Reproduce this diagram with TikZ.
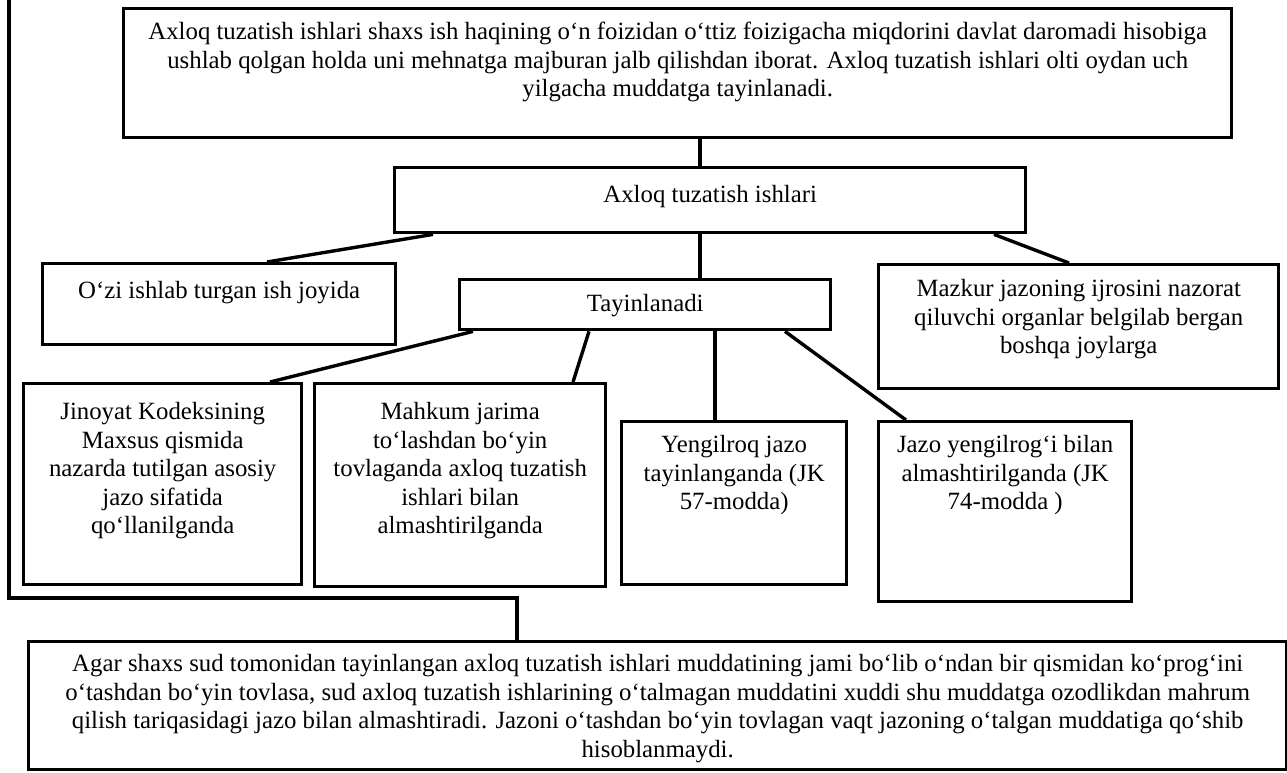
\documentclass[tikz,border=0pt]{standalone}
\usepackage{fontspec}
\setmainfont{Liberation Serif}
\newcommand{\bt}[4]{\parbox[c][#2pt][t]{#1pt}{\centering\rule{0pt}{#3pt}#4}}
\begin{document}
\begin{tikzpicture}[x=1pt,y=-1pt,
  box/.style={draw, line width=3.4pt, inner sep=0pt, anchor=north west,
    font=\fontsize{24.8}{28.5}\selectfont},
  conn/.style={line width=3.4pt, line join=miter}]
\fill[white] (0,0) rectangle (1287,773);
\useasboundingbox (0,0) rectangle (1287,773);

\node[box] (top) at (122,7) {\bt{1108}{129}{31}{Axloq tuzatish ishlari shaxs ish haqining o‘n foizidan o‘ttiz foizigacha miqdorini davlat daromadi hisobiga\\ushlab qolgan holda uni mehnatga majburan jalb qilishdan iborat. Axloq tuzatish ishlari olti oydan uch\\yilgacha muddatga tayinlanadi.}};
\node[box] (axl) at (393,166) {\bt{631}{65}{35}{Axloq tuzatish ishlari}};
\node[box] (ozi) at (41,262) {\bt{353}{81}{35}{O‘zi ishlab turgan ish joyida}};
\node[box] (tay) at (458,278) {\bt{371}{50}{32}{Tayinlanadi}};
\node[box] (maz) at (877,263) {\bt{400}{124}{32}{Mazkur jazoning ijrosini nazorat\\qiluvchi organlar belgilab bergan\\boshqa joylarga}};
\node[box] (jin) at (22,382) {\bt{278}{201}{36}{Jinoyat Kodeksining\\Maxsus qismida\\nazarda tutilgan asosiy\\jazo sifatida\\qo‘llanilganda}};
\node[box] (mah) at (313,382) {\bt{291}{203}{36}{Mahkum jarima\\to‘lashdan bo‘yin\\tovlaganda axloq tuzatish\\ishlari bilan\\almashtirilganda}};
\node[box] (yen) at (620,420) {\bt{225}{163}{31}{Yengilroq jazo\\tayinlanganda (JK\\57-modda)}};
\node[box] (jaz) at (877,420) {\bt{253}{180}{31}{Jazo yengilrog‘i bilan\\almashtirilganda (JK\\74-modda )}};
\node[box] (bot) at (27,640) {\bt{1258}{128}{30}{Agar shaxs sud tomonidan tayinlangan axloq tuzatish ishlari muddatining jami bo‘lib o‘ndan bir qismidan ko‘prog‘ini\\o‘tashdan bo‘yin tovlasa, sud axloq tuzatish ishlarining o‘talmagan muddatini xuddi shu muddatga ozodlikdan mahrum\\qilish tariqasidagi jazo bilan almashtiradi. Jazoni o‘tashdan bo‘yin tovlagan vaqt jazoning o‘talgan muddatiga qo‘shib\\hisoblanmaydi.}};

% connectors
\coordinate (v1) at ([xshift=307pt]axl.north west);
\draw[conn] (v1) -- (v1 |- top.south);
\coordinate (v2) at ([xshift=242pt]tay.north west);
\draw[conn] (v2) -- (v2 |- axl.south);
\draw[conn] ([xshift=40pt]axl.south west) -- ([xshift=226pt]ozi.north west);
\draw[conn] ([xshift=601pt]axl.south west) -- ([xshift=192pt]maz.north west);
\draw[conn] ([xshift=15pt]tay.south west) -- ([xshift=248pt]jin.north west);
\draw[conn] ([xshift=131pt]tay.south west) -- ([xshift=260pt]mah.north west);
\coordinate (v3) at ([xshift=95pt]yen.north west);
\draw[conn] (v3) -- (v3 |- tay.south);
\draw[conn] ([xshift=327pt]tay.south west) -- ([xshift=29pt]jaz.north west);
\coordinate (c2) at (9,598);
\coordinate (bk) at ([xshift=490pt]bot.north west);
\draw[conn] ([yshift=50pt]top.north west) -| (c2) -| (bk);
\end{tikzpicture}
\end{document}
